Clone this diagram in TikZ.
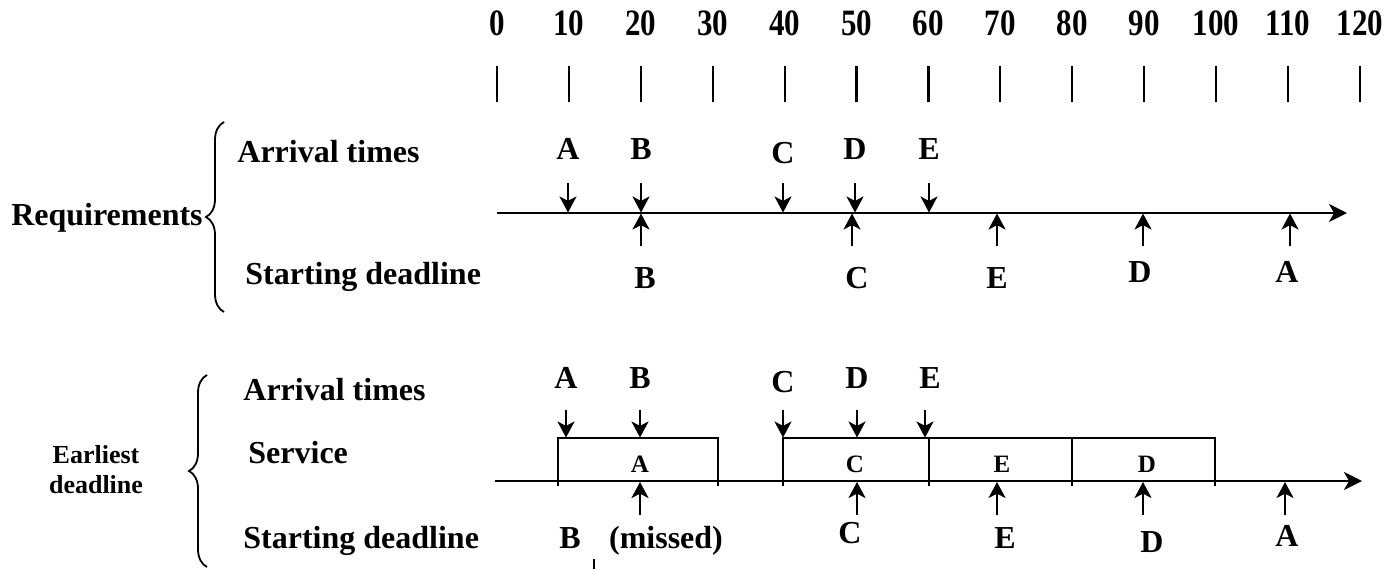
\documentclass[tikz,border=0pt]{standalone}
\usepackage{fontspec}
\usepackage{graphicx}
\setmainfont{Liberation Serif}
\usetikzlibrary{arrows.meta,decorations.pathreplacing}
\begin{document}
\begin{tikzpicture}[x=0.5pt,y=-0.5pt,
  lbl/.style={font=\fontsize{16}{19}\selectfont\bfseries, anchor=base, inner sep=0pt},
  lblw/.style={lbl, anchor=base west},
  boxlbl/.style={font=\fontsize{12.5}{15}\selectfont\bfseries, anchor=base, inner sep=0pt},
  side/.style={font=\fontsize{13}{15}\selectfont\bfseries, anchor=base, inner sep=0pt},
  num/.style={font=\fontsize{15.5}{18}\selectfont\bfseries, anchor=base, inner sep=0pt},
  arr/.style={line width=1.2pt, -{Stealth[length=8pt,width=8.5pt,inset=2.2pt]}},
  axisline/.style={line width=1.4pt, -{Stealth[length=9pt,width=9pt,inset=2.5pt]}},
  tickline/.style={line width=1.1pt},
  boxline/.style={line width=1.3pt},
  bracket/.style={decorate, decoration={brace, amplitude=9pt}, line width=0.9pt},
]
\useasboundingbox (0,0) rectangle (1400,569);

% time scale with tick marks
\foreach \i in {0,...,12} {
  \pgfmathsetmacro{\xx}{497+71.9*\i}
  \pgfmathtruncatemacro{\vv}{10*\i}
  \node[num] (n\i) at (\xx,35) {\scalebox{1}[1.2]{\vv}};
  \coordinate (ta\i) at (\xx,66);
  \coordinate (tb\i) at (\xx,102);
  \draw[tickline] (ta\i) -- (tb\i);
}

% ---------------- Requirements ----------------
\node[lbl] (req) at (107,225) {Requirements};
\coordinate (rb1) at (224,312);
\coordinate (rb2) at (224,122);
\draw[bracket] (rb1) -- (rb2);
\node[lblw] (rarr) at (237,162) {Arrival times};
\node[lblw] (rdl) at (245,284) {Starting deadline};

\coordinate (rax0) at (497,213);
\coordinate (rax1) at (1347,213);
\draw[axisline] (rax0) -- (rax1);

% arrivals
\foreach \nm/\xx/\yy in {A/568/159, B/641/159, C/783/163, D/855/159, E/929/159} {
  \node[lbl] (ra\nm) at (\xx,\yy) {\nm};
  \coordinate (ras\nm) at (\xx,183);
  \coordinate (rae\nm) at (\xx,212.5);
  \draw[arr] (ras\nm) -- (rae\nm);
}
% starting deadlines
\foreach \nm/\xx/\lx/\yy in {B/641/645/288, C/852/857/288, E/997/997/288, D/1143/1140/282, A/1290/1287/282} {
  \node[lbl] (rd\nm) at (\lx,\yy) {\nm};
  \coordinate (rds\nm) at (\xx,246);
  \coordinate (rde\nm) at (\xx,213.5);
  \draw[arr] (rds\nm) -- (rde\nm);
}

% ---------------- Earliest deadline ----------------
\node[side] (ed1) at (96,463) {Earliest};
\node[side] (ed2) at (96,493) {deadline};
\coordinate (eb1) at (207,567);
\coordinate (eb2) at (207,375);
\draw[bracket] (eb1) -- (eb2);
\node[lblw] (earr) at (243,400) {Arrival times};
\node[lblw] (esrv) at (248,463) {Service};
\node[lblw] (edl) at (243,548) {Starting deadline};

\coordinate (eax0) at (495,481);
\coordinate (eax1) at (1362,481);
\draw[axisline] (eax0) -- (eax1);

% service intervals
\coordinate (sA0) at (558,486);
\coordinate (sA1) at (558,438);
\coordinate (sA2) at (718,438);
\coordinate (sA3) at (718,486);
\draw[boxline] (sA0) -- (sA1) -- (sA2) -- (sA3);
\coordinate (sC0) at (783,486);
\coordinate (sC1) at (783,438);
\coordinate (sD2) at (1215,438);
\coordinate (sD3) at (1215,486);
\draw[boxline] (sC0) -- (sC1) -- (sD2) -- (sD3);
\coordinate (sE0) at (929,438);
\coordinate (sE1) at (929,486);
\draw[boxline] (sE0) -- (sE1);
\coordinate (sF0) at (1072,438);
\coordinate (sF1) at (1072,486);
\draw[boxline] (sF0) -- (sF1);
\node[boxlbl] (bA) at (640,472) {A};
\node[boxlbl] (bC) at (855,472) {C};
\node[boxlbl] (bE) at (1002,472) {E};
\node[boxlbl] (bD) at (1147,472) {D};

% arrivals
\foreach \nm/\xx/\lx/\yy in {A/566/566/388, B/640/640/388, C/783/783/392, D/857/857/388, E/925/930/388} {
  \node[lbl] (ea\nm) at (\lx,\yy) {\nm};
  \coordinate (eas\nm) at (\xx,410);
  \coordinate (eae\nm) at (\xx,437.5);
  \draw[arr] (eas\nm) -- (eae\nm);
}
% starting deadlines
\foreach \nm/\xx in {B/640, C/857, E/997, D/1143, A/1285} {
  \coordinate (eds\nm) at (\xx,515);
  \coordinate (ede\nm) at (\xx,482);
  \draw[arr] (eds\nm) -- (ede\nm);
}
\node[lbl] (edB) at (570,548) {B};
\node[lbl] (edM) at (666,548) {(missed)};
\node[lbl] (edC) at (850,543) {C};
\node[lbl] (edE) at (1005,548) {E};
\node[lbl] (edD) at (1152,552) {D};
\node[lbl] (edA) at (1287,546) {A};

% small mark under the lower time line
\coordinate (mk0) at (594,559);
\coordinate (mk1) at (594,569);
\draw[tickline] (mk0) -- (mk1);
\end{tikzpicture}
\end{document}
